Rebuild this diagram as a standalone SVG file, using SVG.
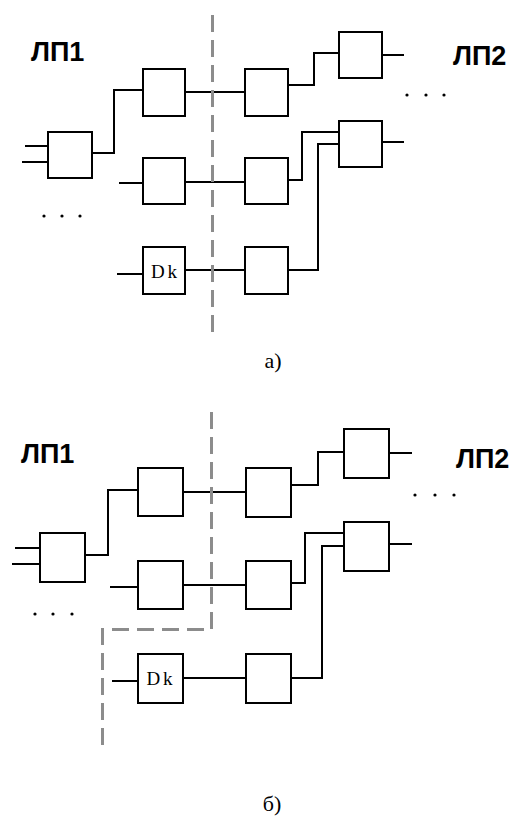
<svg xmlns="http://www.w3.org/2000/svg" width="518" height="817" viewBox="0 0 518 817">
<style>
.box{fill:#fff;stroke:#000;stroke-width:2}
.wire{fill:none;stroke:#000;stroke-width:2}
.cut{fill:none;stroke:#8c8c8c;stroke-width:3;stroke-dasharray:17 8}
.lbl{font-family:"Liberation Sans",Arial,sans-serif;font-size:27px;font-weight:bold;fill:#000}
.dk{font-family:"Liberation Serif","Times New Roman",serif;font-size:19px;fill:#000;letter-spacing:3px}
.cap{font-family:"Liberation Serif","Times New Roman",serif;font-size:22px;fill:#000}
.dot{fill:#000}
</style>
<rect width="518" height="817" fill="#fff"/>

<!-- Diagram a -->
<g id="a-connectors">
<path class="wire" d="M25,146H48M22,162H48"/>
<path class="wire" d="M92,153H114V90H143"/>
<path class="wire" d="M185,92H245"/>
<path class="wire" d="M288,85H314V53H339"/>
<path class="wire" d="M382,55H404"/>
<path class="wire" d="M382,142H404"/>
<path class="wire" d="M119,183H143"/>
<path class="wire" d="M185,182H245"/>
<path class="wire" d="M288,180H302V132H339"/>
<path class="wire" d="M117,274H143"/>
<path class="wire" d="M185,270H245"/>
<path class="wire" d="M288,270H318V144H339"/>
<path class="cut" d="M212.5,15V339"/>
</g>
<g id="a-lp1"><text class="lbl" x="31" y="61">ЛП1</text></g>
<g id="a-lp2"><text class="lbl" x="453" y="65">ЛП2</text></g>
<g id="a-A"><rect class="box" x="48" y="132" width="44" height="46"/></g>
<g id="a-B"><rect class="box" x="143" y="69" width="42" height="47"/></g>
<g id="a-C"><rect class="box" x="245" y="69" width="43" height="47"/></g>
<g id="a-F"><rect class="box" x="339" y="32" width="43" height="46"/></g>
<g id="a-G"><rect class="box" x="339" y="121" width="43" height="46"/></g>
<g id="a-D"><rect class="box" x="143" y="158" width="42" height="46"/></g>
<g id="a-E"><rect class="box" x="245" y="158" width="43" height="46"/></g>
<g id="a-Dk"><rect class="box" x="143" y="247" width="42" height="47"/><text class="dk" x="165.5" y="278" text-anchor="middle">Dk</text></g>
<g id="a-H"><rect class="box" x="245" y="247" width="43" height="47"/></g>
<g id="a-dots"><circle class="dot" cx="407" cy="95" r="1.6"/><circle class="dot" cx="426" cy="95" r="1.6"/><circle class="dot" cx="444" cy="95" r="1.6"/><circle class="dot" cx="44" cy="216" r="1.6"/><circle class="dot" cx="62" cy="216" r="1.6"/><circle class="dot" cx="80" cy="216" r="1.6"/></g>
<g id="a-caption"><text class="cap" x="273" y="368" text-anchor="middle">а)</text></g>

<!-- Diagram b -->
<g id="b-connectors">
<path class="wire" d="M15,548H40M12,564H40"/>
<path class="wire" d="M85,555H108V490H138"/>
<path class="wire" d="M183,492H246"/>
<path class="wire" d="M291,485H318V452H344"/>
<path class="wire" d="M389,453H412"/>
<path class="wire" d="M389,544H412"/>
<path class="wire" d="M110,587H138"/>
<path class="wire" d="M183,585H246"/>
<path class="wire" d="M291,583H305V533H344"/>
<path class="wire" d="M112,681H138"/>
<path class="wire" d="M183,678H246"/>
<path class="wire" d="M291,678H322V546H344"/>
<path class="cut" d="M211.5,412V629.5H102.5V749"/>
</g>
<g id="b-lp1"><text class="lbl" x="21" y="463">ЛП1</text></g>
<g id="b-lp2"><text class="lbl" x="456" y="468">ЛП2</text></g>
<g id="b-A"><rect class="box" x="40" y="533" width="45" height="49"/></g>
<g id="b-B"><rect class="box" x="138" y="468" width="45" height="48"/></g>
<g id="b-C"><rect class="box" x="246" y="468" width="45" height="49"/></g>
<g id="b-F"><rect class="box" x="344" y="429" width="45" height="49"/></g>
<g id="b-G"><rect class="box" x="344" y="522" width="45" height="49"/></g>
<g id="b-D"><rect class="box" x="138" y="561" width="45" height="48"/></g>
<g id="b-E"><rect class="box" x="246" y="561" width="45" height="48"/></g>
<g id="b-Dk"><rect class="box" x="138" y="654" width="45" height="49"/><text class="dk" x="161" y="685" text-anchor="middle">Dk</text></g>
<g id="b-H"><rect class="box" x="246" y="654" width="45" height="49"/></g>
<g id="b-dots"><circle class="dot" cx="415" cy="495" r="1.6"/><circle class="dot" cx="435" cy="495" r="1.6"/><circle class="dot" cx="454" cy="495" r="1.6"/><circle class="dot" cx="35" cy="614" r="1.6"/><circle class="dot" cx="53" cy="614" r="1.6"/><circle class="dot" cx="72" cy="614" r="1.6"/></g>
<g id="b-caption"><text class="cap" x="272" y="811" text-anchor="middle">б)</text></g>
</svg>
